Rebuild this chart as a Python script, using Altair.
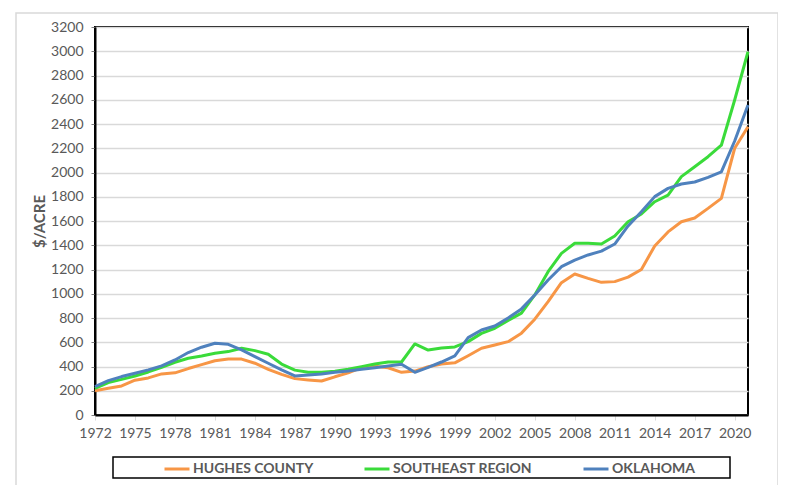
import altair as alt
import pandas as pd

years = list(range(1972, 2022))
hughes = [200, 220, 240, 287, 306, 339, 348, 383, 415, 447,
          461, 461, 427, 377, 335, 300, 289, 280, 315, 347,
          390, 402, 390, 352, 362, 398, 420, 430, 489, 550,
          577, 605, 675, 790, 935, 1091, 1163, 1127, 1094, 1100,
          1137, 1200, 1394, 1510, 1594, 1625, 1704, 1787, 2200, 2378]
southeast = [220, 267, 294, 322, 355, 394, 435, 468, 487, 509,
             523, 550, 531, 501, 420, 370, 352, 352, 360, 377,
             399, 421, 437, 437, 586, 536, 553, 561, 605, 673,
             715, 780, 840, 990, 1182, 1333, 1416, 1416, 1410, 1476,
             1594, 1658, 1759, 1814, 1966, 2048, 2130, 2225, 2598, 2996]
oklahoma = [234, 283, 317, 344, 372, 405, 454, 515, 559, 592,
            583, 537, 482, 427, 372, 322, 330, 338, 352, 363,
            377, 390, 404, 418, 352, 393, 437, 487, 638, 701,
            734, 800, 875, 990, 1113, 1223, 1278, 1320, 1352, 1410,
            1559, 1677, 1801, 1869, 1905, 1922, 1960, 2005, 2260, 2557]

series_names = ["HUGHES COUNTY", "SOUTHEAST REGION", "OKLAHOMA"]
series_colors = ["#F79646", "#3ADB3A", "#4F81BD"]
y_ticks = list(range(0, 3201, 200))
x_ticks = list(range(1972, 2021, 3))

rows = []
for i, (name, vals) in enumerate(zip(series_names, [hughes, southeast, oklahoma])):
    for yr, v in zip(years, vals):
        rows.append({"year": yr, "value": v, "series": name, "k": i})
df = pd.DataFrame(rows)

TEXT = "#595959"
FONT = "Lato"

lines = alt.Chart(df).mark_line(strokeWidth=3, strokeJoin="round").encode(
    x=alt.X("year:Q",
            scale=alt.Scale(domain=[1972, 2021], nice=False, zero=False),
            axis=alt.Axis(values=x_ticks, format="d", title=None, grid=False,
                          labelFont=FONT, labelFontSize=14, labelColor=TEXT,
                          tickColor="#D9D9D9", tickSize=5, labelPadding=6,
                          domainColor="black", domainWidth=2, labelFlush=False)),
    y=alt.Y("value:Q",
            scale=alt.Scale(domain=[0, 3200], nice=False),
            axis=alt.Axis(values=y_ticks, format="d", title="$/ACRE", grid=True,
                          gridColor="#D9D9D9", gridWidth=1.5,
                          labelFont=FONT, labelFontSize=14, labelColor=TEXT,
                          tickColor="#808080", tickSize=4, labelPadding=8,
                          domainColor="black", domainWidth=2,
                          titleFont=FONT, titleFontSize=15, titleFontWeight="bold",
                          titleColor=TEXT, titlePadding=3)),
    color=alt.Color("series:N",
                    scale=alt.Scale(domain=series_names, range=series_colors),
                    legend=alt.Legend(orient="none", legendX=68, legendY=428,
                                      direction="horizontal", title=None,
                                      symbolType="stroke", symbolSize=625,
                                      symbolStrokeWidth=3, labelOffset=2,
                                      labelFont=FONT, labelFontSize=14,
                                      labelFontWeight="bold", labelColor=TEXT,
                                      labelLimit=0, columnPadding=44, padding=0,
                                      gridAlign="none")),
    order=alt.Order("k:Q"),
)

frame_src = pd.DataFrame({"a": [0]})
outer = alt.Chart(frame_src).mark_rect(fillOpacity=0, stroke="#D9D9D9", strokeWidth=1.5).encode(
    x=alt.value(-79), x2=alt.value(683), y=alt.value(-14), y2=alt.value(460))
legend_box = alt.Chart(frame_src).mark_rect(fillOpacity=0, stroke="black", strokeWidth=1.5).encode(
    x=alt.value(18), x2=alt.value(635), y=alt.value(430), y2=alt.value(451))

chart = alt.layer(outer, legend_box, lines).properties(
    width=653, height=388,
    autosize=alt.AutoSizeParams(type="none"),
    padding={"left": 87, "top": 19, "right": 30, "bottom": 70},
    background="white",
).configure_view(stroke="black", strokeWidth=2)

chart.save("out.html", embed_options={"renderer": "svg", "actions": False})
